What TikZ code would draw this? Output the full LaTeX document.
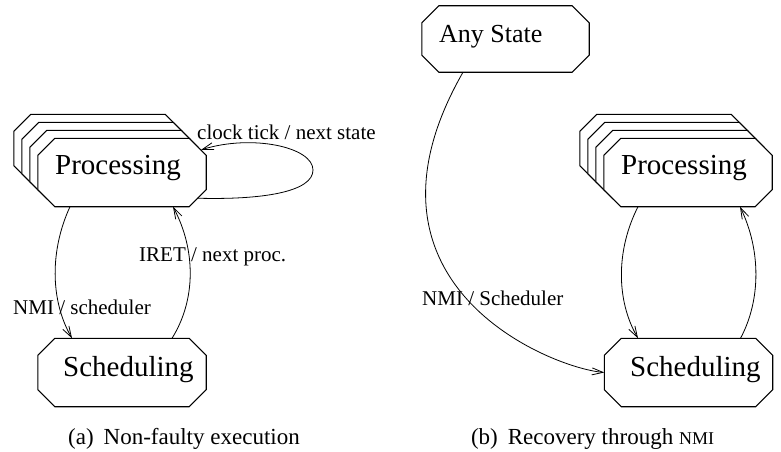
\documentclass[tikz,border=0pt]{standalone}
\usepackage{fontspec}
\setmainfont{Liberation Serif}
\usetikzlibrary{arrows.meta}

% octagonal state outline drawn round an (invisible) rectangular node
\newcommand\octagonof[1]{%
  \filldraw[octline]
    ([xshift=17pt]#1.north west) -- ([xshift=-17pt]#1.north east)
    -- ([yshift=-17pt]#1.north east) -- ([yshift=17pt]#1.south east)
    -- ([xshift=-17pt]#1.south east) -- ([xshift=17pt]#1.south west)
    -- ([yshift=17pt]#1.south west) -- ([yshift=-17pt]#1.north west) -- cycle;}

\tikzset{
  statebox/.style={rectangle, minimum width=168pt, minimum height=68pt, inner sep=0pt},
  octline/.style={line width=1.1pt, fill=white, draw=black, line join=miter},
  statetext/.style={anchor=base west, inner sep=0pt, font=\fontsize{29}{29}\selectfont},
  edgelabel/.style={anchor=base west, inner sep=0pt, font=\fontsize{21}{21}\selectfont},
  captext/.style={anchor=base, inner sep=0pt, font=\fontsize{23}{23}\selectfont},
  trans/.style={line width=0.8pt, -{Straight Barb[length=11pt,width=7pt]}},
}

\begin{document}
\begin{tikzpicture}[x=1pt,y=-1pt]
\useasboundingbox (0,0) rectangle (781,452);

% ---------------- (a) non-faulty execution ----------------
% stacked processing states
\node[statebox] (pa3) at (98,148.5) {};
\node[statebox] (pa2) at (106,156.5) {};
\node[statebox] (pa1) at (114,164.5) {};
\node[statebox] (procA) at (122,172.5) {};
\octagonof{pa3}\octagonof{pa2}\octagonof{pa1}\octagonof{procA}
\node[statetext] (procAtxt) at (55,174) {Processing};

\node[statebox] (schedA) at (122,372.5) {};
\octagonof{schedA}
\node[statetext] (schedAtxt) at (63,376) {Scheduling};

% self loop on Processing
\draw[trans] ([xshift=-9pt,yshift=8.5pt]procA.south east)
  .. controls (262,200) and (313,192) .. (313,170)
  .. controls (313,147) and (252,134) .. ([xshift=-5pt,yshift=-11.5pt]procA.north east);
\node[edgelabel] (ticklbl) at (197,139.5) {clock tick / next state};

% Processing -> Scheduling
\draw[trans] ([xshift=-52pt]procA.south)
  .. controls (50,250) and (50,300) .. ([xshift=-50pt]schedA.north);
\node[edgelabel] (nmiA) at (13,314) {NMI / scheduler};

% Scheduling -> Processing
\draw[trans] ([xshift=50pt]schedA.north)
  .. controls (196,300) and (196,250) .. ([xshift=51pt]procA.south);
\node[edgelabel] (iretA) at (139,261) {IRET / next proc.};

\node[captext] (capA) at (184,444) {(a)\hspace{10pt}Non-faulty execution};

% ---------------- (b) recovery through NMI ----------------
\node[statebox, minimum width=167pt, minimum height=66pt] (any) at (505.5,39) {};
\octagonof{any}
\node[statetext, font=\fontsize{26}{26}\selectfont] (anytxt) at (439,42) {Any State};

\node[statebox] (pb3) at (664,148.5) {};
\node[statebox] (pb2) at (672,156.5) {};
\node[statebox] (pb1) at (680,164.5) {};
\node[statebox] (procB) at (688,172.5) {};
\octagonof{pb3}\octagonof{pb2}\octagonof{pb1}\octagonof{procB}
\node[statetext] (procBtxt) at (621,174) {Processing};

\node[statebox] (schedB) at (688.5,372.5) {};
\octagonof{schedB}
\node[statetext] (schedBtxt) at (630,376) {Scheduling};

% Any State -> Scheduling
\draw[trans] ([xshift=-42.5pt]any.south)
  .. controls (341.6,284) and (550,367.6) .. (schedB.west);
\node[edgelabel] (nmiB) at (422,305.5) {NMI / Scheduler};

% Processing <-> Scheduling
\draw[trans] ([xshift=-50pt]procB.south)
  .. controls (616,250) and (616,300) .. ([xshift=-50.5pt]schedB.north);
\draw[trans] ([xshift=52pt]schedB.north)
  .. controls (761,300) and (761,250) .. ([xshift=52pt]procB.south);

\node[captext] (capB) at (592.5,444)
  {(b)\hspace{10pt}Recovery through {\fontsize{18}{18}\selectfont NMI}};
\end{tikzpicture}
\end{document}
